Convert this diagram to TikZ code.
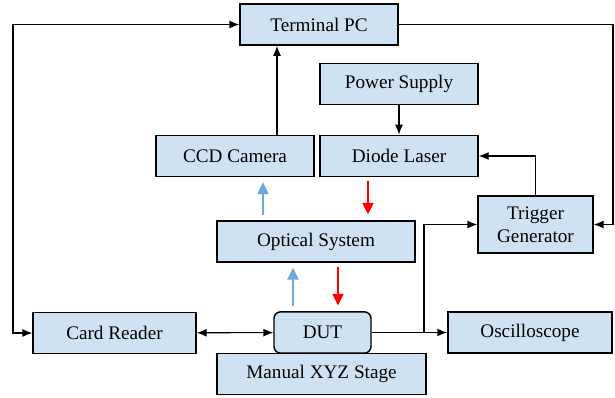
\documentclass[tikz,border=0pt]{standalone}
\usepackage{fontspec}
\setmainfont{Liberation Serif}
\usetikzlibrary{arrows.meta}

\definecolor{boxfill}{HTML}{CFE2F3}
\definecolor{camblue}{HTML}{6FA8DC}
\definecolor{laserred}{HTML}{FF0000}

\begin{document}
\begin{tikzpicture}[
    x=0.75pt, y=-0.75pt,
    block/.style={rectangle, draw, fill=boxfill, line width=1.1pt, inner sep=0pt,
      minimum width=118.5pt, minimum height=31pt, align=center,
      font=\fontsize{14.4}{17}\selectfont},
    link/.style={-{Latex[length=7.5pt, width=6pt]}, line width=0.8pt},
    bilink/.style={{Latex[length=7.5pt, width=6pt]}-{Latex[length=7.5pt, width=6pt]}, line width=0.8pt},
    bluebeam/.style={-{Triangle[length=9pt, width=8pt]}, line width=2.2pt, camblue,
      shorten <=3.5pt, shorten >=3.5pt},
    redbeam/.style={-{Triangle[length=9pt, width=8pt]}, line width=2.2pt, laserred,
      shorten <=3pt, shorten >=4pt},
]
  \useasboundingbox (0,0) rectangle (615,398);

  \node[block] (tpc) at (319,24.5) {Terminal PC};
  \node[block] (psu) at (399,84) {Power Supply};
  \node[block] (laser) at (399,156) {Diode Laser};
  \node[block] (ccd) at (235,156) {CCD Camera};
  \node[block, minimum width=148.5pt] (optics) at (316,241.5) {Optical System};
  \node[block, minimum width=86.25pt, minimum height=42.75pt] (trig) at (535.5,224.5) {Trigger\\Generator};
  \node[block, minimum width=122.25pt] (reader) at (114.5,333) {Card Reader};
  \node[block, minimum width=72.75pt, rounded corners=5pt] (dut) at (322.5,332.5) {DUT};
  \node[block, minimum width=156.75pt] (stage) at (321.5,374) {Manual XYZ Stage};
  \node[block, minimum width=123pt] (scope) at (530,332.5) {Oscilloscope};

  % helper columns
  \coordinate (lft) at (13,0);
  \coordinate (rgt) at (613,0);
  \coordinate (camx) at (277,0);
  \coordinate (split) at (424,333);
  \coordinate (b1) at (263,0);
  \coordinate (b2) at (293,0);
  \coordinate (r1) at (368,0);
  \coordinate (r2) at (338,0);

  % signal lines
  \draw[link] (camx |- ccd.north) -- (camx |- tpc.south);
  \draw[link] (psu) -- (laser);
  \draw[link] (trig.north) |- (laser.east);
  \draw[link] (tpc.east) -- (tpc.east -| rgt) -- (trig.east -| rgt) -- (trig.east);
  \draw[bilink] (tpc.west) -- (tpc.west -| lft) -- (reader.west -| lft) -- (reader.west);
  \draw[bilink] (reader) -- (dut);
  \draw[link, line width=1.3pt] (dut.east) -- (scope.west);
  \draw[link] (split) |- (trig.west);

  % optical paths
  \draw[bluebeam] (b1 |- optics.north) -- (b1 |- ccd.south);
  \draw[bluebeam] (b2 |- dut.north) -- (b2 |- optics.south);
  \draw[redbeam] (r1 |- laser.south) -- (r1 |- optics.north);
  \draw[redbeam] (r2 |- optics.south) -- (r2 |- dut.north);
\end{tikzpicture}
\end{document}
